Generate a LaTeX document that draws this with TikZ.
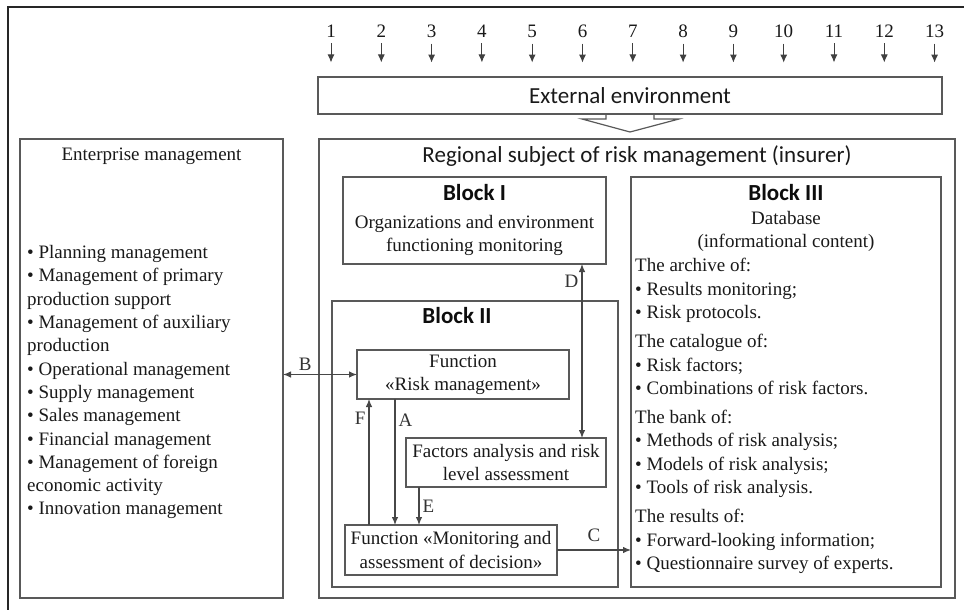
\documentclass[tikz,border=0pt]{standalone}
\usepackage{fontspec}
\setmainfont{Liberation Serif}
\newfontfamily\calibrifont{Carlito}
\usetikzlibrary{arrows.meta,chains,positioning,scopes}

\begin{document}
\begin{tikzpicture}
      [
        x=1pt, y=-1pt,
        >={Latex[length=8pt, width=6.5pt]},
        node distance = 0pt,
        Frame/.style={draw=black!65, line width=1.2pt, inner sep=0pt, outer sep=0pt, text=black!90},
        NumBlock/.style={minimum width=49.9pt, inner xsep=0pt, inner ysep=6pt, font=\fontsize{19}{23}\selectfont, text=black!90, on chain},
        NumArrow/.style={draw=black!75, line width=1pt, -{Latex[length=8pt, width=7pt]}},
        SansText/.style={font=\calibrifont\fontsize{23}{27}\selectfont, inner sep=0pt, text=black!90},
        BoldHead/.style={font=\calibrifont\bfseries\fontsize{23}{27}\selectfont, inner sep=0pt, text=black!95},
        SerifText/.style={font=\fontsize{19}{23.1}\selectfont, align=center, text=black!90},
        ListText/.style={font=\fontsize{19}{23.3}\selectfont, align=left, inner sep=0pt, text=black!90},
        Link/.style={draw=black!72, line width=1.1pt},
        EdgeLabel/.style={font=\fontsize{19}{23}\selectfont, inner sep=3pt, text=black!80},
      ]
      \useasboundingbox (0,0) rectangle (964,610);

      % screenshot border
      \draw[line width=1.3pt, black!85] (964,7) -- (8,7) -- (8,610);

      % external factors
      {[start chain = going right]
      \node [NumBlock] (n1) at (331,31) {1};
      \node [NumBlock] (n2) {2};
      \node [NumBlock] (n3) {3};
      \node [NumBlock] (n4) {4};
      \node [NumBlock] (n5) {5};
      \node [NumBlock] (n6) {6};
      \node [NumBlock] (n7) {7};
      \node [NumBlock] (n8) {8};
      \node [NumBlock] (n9) {9};
      \node [NumBlock] (n10) {10};
      \node [NumBlock] (n11) {11};
      \node [NumBlock] (n12) {12};
      \node [NumBlock] (n13) {13};
      }
      \draw[NumArrow] (n1.south) -- ++(0,19);
      \draw[NumArrow] (n2.south) -- ++(0,19);
      \draw[NumArrow] (n3.south) -- ++(0,19);
      \draw[NumArrow] (n4.south) -- ++(0,19);
      \draw[NumArrow] (n5.south) -- ++(0,19);
      \draw[NumArrow] (n6.south) -- ++(0,19);
      \draw[NumArrow] (n7.south) -- ++(0,19);
      \draw[NumArrow] (n8.south) -- ++(0,19);
      \draw[NumArrow] (n9.south) -- ++(0,19);
      \draw[NumArrow] (n10.south) -- ++(0,19);
      \draw[NumArrow] (n11.south) -- ++(0,19);
      \draw[NumArrow] (n12.south) -- ++(0,19);
      \draw[NumArrow] (n13.south) -- ++(0,19);

      \node [Frame, SansText, minimum width=624pt, minimum height=37pt] (ext) at (630,95.5) {External environment};

      % regional subject
      \node [Frame, minimum width=636pt, minimum height=459pt] (regional) at (637,368.5) {};
      \node [SansText, below=6pt of regional.north] (regtitle) {Regional subject of risk management (insurer)};

      \draw[Frame, line join=miter] ([xshift=-24pt]ext.south) -- ++(0,5) -- ++(-24,0) -- ++(48,13) -- ++(49,-13) -- ++(-25,0) -- ++(0,-5);

      % enterprise
      \node [Frame, minimum width=263pt, minimum height=459pt] (ent) at (151.5,368.5) {};
      \node [SerifText, inner sep=0pt, below=9pt of ent.north] (enttitle) {Enterprise management};
      \node [ListText, anchor=north west] (entlist) at (27,245.3) {%
        • Planning management\\
        • Management of primary\\
        production support\\
        • Management of auxiliary\\
        production\\
        • Operational management\\
        • Supply management\\
        • Sales management\\
        • Financial management\\
        • Management of foreign\\
        economic activity\\
        • Innovation management};

      % block I
      \node [Frame, minimum width=263pt, minimum height=87pt] (blk1) at (474.5,220.5) {};
      \node [BoldHead, below=7pt of blk1.north] (blk1head) {Block I};
      \node [SerifText, inner sep=0pt, below=14pt of blk1head] (blk1txt) {Organizations and environment\\functioning monitoring};

      % block II
      \node [Frame, minimum width=286pt, minimum height=286pt] (blk2) at (475,444) {};
      \node [BoldHead, below=6pt of blk2.north, xshift=-18pt] (blk2head) {Block II};
      \node [Frame, SerifText, minimum width=212pt, minimum height=49pt] (riskfn) at (463,374.5) {Function\\«Risk management»};
      \node [Frame, SerifText, minimum width=200pt, minimum height=49pt] (factors) at (506,462.5) {Factors analysis and risk\\level assessment};
      \node [Frame, SerifText, minimum width=212pt, minimum height=50pt] (monitfn) at (451,550) {Function «Monitoring and\\assessment of decision»};

      % block III
      \node [Frame, minimum width=310pt, minimum height=410pt] (blk3) at (786,382) {};
      \node [BoldHead, below=7pt of blk3.north] (blk3head) {Block III};
      \node [SerifText, inner sep=0pt, below=10pt of blk3head] (blk3txt) {Database\\(informational content)};
      \node [ListText, anchor=north west] (blk3list) at (635,258.3) {%
        The archive of:\\
        • Results monitoring;\\
        • Risk protocols.\\[6pt]
        The catalogue of:\\
        • Risk factors;\\
        • Combinations of risk factors.\\[6pt]
        The bank of:\\
        • Methods of risk analysis;\\
        • Models of risk analysis;\\
        • Tools of risk analysis.\\[6pt]
        The results of:\\
        • Forward-looking information;\\
        • Questionnaire survey of experts.};

      \draw[Link, <->] (riskfn.west) -- (riskfn.west -| ent.east) node[EdgeLabel, pos=0.7, above] {B};
      \draw[Link, <->] ([xshift=76pt]factors.north) -- ([xshift=76pt]factors.north |- blk1.south) node[EdgeLabel, pos=0.9, left] {D};
      \draw[Link, ->] ([xshift=-68pt]riskfn.south) -- ([xshift=-68pt]riskfn.south |- monitfn.north) node[EdgeLabel, pos=0.17, right] {A};
      \draw[Link, ->] ([xshift=-82pt]monitfn.north) -- ([xshift=-82pt]monitfn.north |- riskfn.south) node[EdgeLabel, pos=0.85, left] {F};
      \draw[Link, ->] ([xshift=-87pt]factors.south) -- ([xshift=-87pt]factors.south |- monitfn.north) node[EdgeLabel, pos=0.5, right] {E};
      \draw[Link, ->] (monitfn.east) -- (monitfn.east -| blk3.west) node[EdgeLabel, pos=0.5, above=5pt] {C};
    \end{tikzpicture}
\end{document}
